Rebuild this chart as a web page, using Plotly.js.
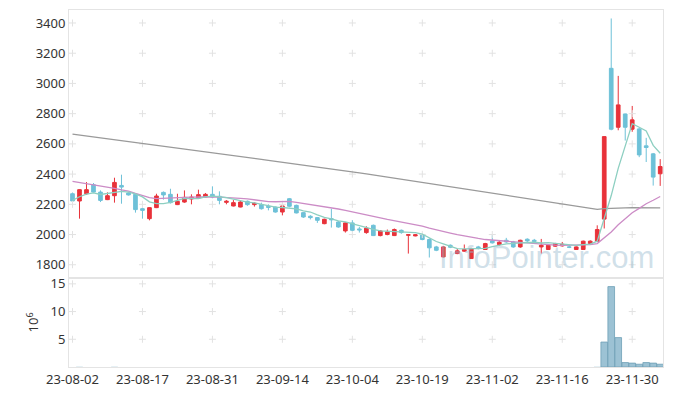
<!DOCTYPE html>
<html><head><meta charset="utf-8">
<script src="https://cdn.plot.ly/plotly-3.0.1.min.js"></script>
<style>html,body{margin:0;padding:0;background:#fff}#chart{width:673px;height:396px}</style>
</head><body><div id="chart"></div>
<script>
const dates = ['23-08-02','23-08-03','23-08-04','23-08-07','23-08-08','23-08-09','23-08-10','23-08-11','23-08-14','23-08-16','23-08-17','23-08-18','23-08-21','23-08-22','23-08-23','23-08-24','23-08-25','23-08-28','23-08-29','23-08-30','23-08-31',
'23-09-01','23-09-04','23-09-05','23-09-06','23-09-07','23-09-08','23-09-11','23-09-12','23-09-13','23-09-14','23-09-15','23-09-18','23-09-19','23-09-20','23-09-21','23-09-22','23-09-25','23-09-26','23-09-27',
'23-10-04','23-10-05','23-10-06','23-10-10','23-10-11','23-10-12','23-10-13','23-10-16','23-10-17','23-10-18','23-10-19','23-10-20','23-10-23','23-10-24','23-10-25','23-10-26','23-10-27','23-10-30','23-10-31',
'23-11-01','23-11-02','23-11-03','23-11-06','23-11-07','23-11-08','23-11-09','23-11-10','23-11-13','23-11-14','23-11-15','23-11-16','23-11-17','23-11-20','23-11-21','23-11-22','23-11-23','23-11-24','23-11-27','23-11-28','23-11-29','23-11-30',
'23-12-01','23-12-04','23-12-05','23-12-06'];

const openP = [2270,2222,2270,2330,2281,2231,2257,2325,2275,2266,
 2171,2105,2178,2279,2266,2198,2215,2235,2242,2248,
 2266,2253,2213,2189,2182,2220,2198,2198,2187,2182,
 2149,2237,2193,2145,2121,2112,2072,2105,2083,2024,
 2077,2037,2013,2061,1993,2000,1993,2028,1995,1991,
 1998,1967,1918,1852,1929,1874,1890,1841,1918,1901,
 1958,1934,1962,1951,1918,1969,1962,1918,1901,1923,
 1925,1918,1901,1901,1940,1956,2102,3100,2710,2798,
 2697,2699,2587,2534,2402];
const highP = [2278,2300,2347,2341,2292,2279,2376,2396,2280,2270,
 2178,2180,2270,2285,2303,2270,2292,2266,2297,2275,
 2319,2286,2228,2228,2228,2225,2213,2211,2200,2185,
 2195,2242,2198,2148,2128,2115,2105,2171,2090,2080,
 2095,2050,2055,2066,2030,2033,2040,2033,2002,2002,
 2006,1975,1925,1925,1935,1905,1934,1912,1925,1945,
 1995,1962,1978,1958,1966,1975,1971,1971,1935,1945,
 1951,1932,1922,1960,1962,2061,2650,3430,3050,2800,
 2851,2705,2640,2540,2499];
const lowP = [2204,2105,2262,2278,2215,2228,2211,2204,2258,2145,
 2105,2094,2175,2231,2205,2195,2210,2200,2238,2245,
 2240,2200,2200,2186,2180,2190,2185,2165,2160,2145,
 2127,2180,2140,2110,2100,2077,2068,2046,2045,2013,
 2020,2013,2005,1990,1988,1995,1990,2005,1874,1988,
 1962,1848,1890,1848,1910,1870,1885,1838,1902,1898,
 1940,1925,1945,1912,1912,1950,1938,1874,1898,1918,
 1920,1910,1898,1898,1935,1950,2040,2690,2690,2622,
 2680,2512,2480,2324,2322];
const closeP = [2222,2297,2297,2281,2226,2257,2345,2314,2262,2165,
 2160,2178,2255,2262,2211,2220,2246,2248,2264,2266,
 2248,2226,2220,2211,2215,2198,2207,2171,2180,2149,
 2189,2187,2143,2116,2112,2094,2101,2098,2050,2077,
 2028,2031,2042,1993,2024,2017,2033,2013,1999,1998,
 1967,1912,1896,1918,1916,1892,1901,1907,1907,1940,
 1945,1949,1951,1918,1962,1958,1955,1929,1929,1940,
 1936,1916,1918,1956,1956,2033,2648,2697,2858,2710,
 2759,2527,2576,2380,2450];

const ma5 = [2226,2250,2268,2276,2265,2272,2281,2285,2281,2269,
 2249,2216,2204,2204,2213,2225,2239,2237,2238,2249,
 2254,2250,2245,2234,2224,2214,2210,2200,2194,2181,
 2179,2175,2170,2157,2149,2130,2113,2104,2091,2084,
 2071,2057,2046,2034,2024,2021,2022,2016,2017,2012,
 2002,1978,1954,1938,1922,1907,1905,1907,1905,1909,
 1920,1930,1938,1941,1945,1948,1949,1944,1947,1942,
 1938,1930,1928,1933,1936,1956,2102,2258,2438,2589,
 2734,2710,2686,2590,2538];
const ma20 = [2352,2345,2338,2330,2321,2313,2305,2296,2288,2272,
 2256,2244,2238,2239,2241,2244,2246,2248,2249,2249,
 2250,2247,2243,2239,2239,2236,2229,2222,2218,2217,
 2218,2219,2213,2206,2201,2195,2187,2180,2169,2160,
 2149,2139,2130,2119,2110,2100,2092,2084,2075,2067,
 2056,2042,2030,2020,2010,2000,1990,1981,1974,1967,
 1963,1958,1954,1950,1947,1944,1940,1936,1933,1930,
 1928,1928,1929,1931,1933,1940,1978,2017,2065,2103,
 2144,2173,2204,2227,2252];
const ma120 = [2665,2659,2653,2646,2640,2634,2628,2622,2615,2609,
 2603,2597,2591,2584,2578,2572,2566,2560,2553,2547,
 2541,2535,2529,2522,2516,2510,2504,2498,2491,2485,
 2479,2473,2467,2460,2454,2448,2442,2436,2429,2422,
 2415,2408,2401,2394,2387,2379,2372,2365,2358,2351,
 2344,2337,2330,2323,2316,2308,2301,2294,2287,2280,
 2273,2266,2259,2252,2245,2237,2230,2223,2216,2209,
 2202,2195,2188,2181,2174,2167,2172,2175,2176,2177,
 2178,2178,2177,2176,2176];

const volume = [0.02,0.03,0.02,0.02,0.02,0.01,0.03,0.02,0.01,0.02,
 0.02,0.02,0.02,0.01,0.02,0.01,0.02,0.01,0.01,0.01,
 0.01,0.01,0.01,0.01,0.01,0.01,0.01,0.01,0.01,0.01,
 0.01,0.02,0.01,0.01,0.01,0.01,0.01,0.02,0.01,0.01,
 0.01,0.01,0.01,0.02,0.01,0.01,0.01,0.01,0.02,0.01,
 0.01,0.02,0.01,0.02,0.01,0.01,0.01,0.02,0.01,0.01,
 0.02,0.01,0.01,0.01,0.01,0.01,0.01,0.02,0.01,0.01,
 0.01,0.01,0.01,0.02,0.01,0.03,4.5,14.5,5.3,0.8,
 0.7,0.5,0.8,0.7,0.5];

const priceTicks = [1800,2000,2200,2400,2600,2800,3000,3200,3400];
const volTicks = [5,10,15];
const dateTicks = ['23-08-02','23-08-17','23-08-31','23-09-14','23-10-04','23-10-19','23-11-02','23-11-16','23-11-30'];
const watermark = 'InfoPointer.com';

const UP = '#e8323a', DOWN = '#6ec1d8';
const gridX = [], gridY = [], gridX2 = [], gridY2 = [];
dateTicks.forEach(d => {
  priceTicks.forEach(v => { gridX.push(d); gridY.push(v); });
  volTicks.forEach(v => { gridX2.push(d); gridY2.push(v); });
});
const crossMarker = {symbol:'cross-thin', size:5, color:'#e2e2e2', line:{color:'#e2e2e2', width:1}};
// outline only on bars tall enough to show one
const volLineW = volume.map(v => v > 0.3 ? 0.8 : 0);

const traces = [
  {type:'candlestick', x:dates, open:openP, high:highP, low:lowP, close:closeP, xaxis:'x', yaxis:'y',
   increasing:{line:{color:UP, width:1}, fillcolor:UP},
   decreasing:{line:{color:DOWN, width:1}, fillcolor:DOWN},
   whiskerwidth:0, showlegend:false},
  {type:'bar', x:dates, y:volume, xaxis:'x2', yaxis:'y2', marker:{color:'#9cc2d4', line:{color:'#6f9fb6', width:volLineW}}, showlegend:false},
  {type:'scatter', mode:'markers', x:gridX, y:gridY, xaxis:'x', yaxis:'y', marker:crossMarker, hoverinfo:'skip', showlegend:false},
  {type:'scatter', mode:'markers', x:gridX2, y:gridY2, xaxis:'x2', yaxis:'y2', marker:crossMarker, hoverinfo:'skip', showlegend:false},
  {type:'scatter', mode:'lines', x:dates, y:ma120, xaxis:'x', yaxis:'y', line:{color:'#9a9a9a', width:1.3}, showlegend:false},
  {type:'scatter', mode:'lines', x:dates, y:ma20, xaxis:'x', yaxis:'y', line:{color:'#cc8cc6', width:1.3}, showlegend:false},
  {type:'scatter', mode:'lines', x:dates, y:ma5, xaxis:'x', yaxis:'y', line:{color:'#8dcfc1', width:1.3}, showlegend:false}
];

const tickFont = {family:'Noto Sans, sans-serif', size:13, color:'#333'};
const layout = {
  width:673, height:396,
  margin:{l:69, r:10, t:10, b:29},
  paper_bgcolor:'#fff', plot_bgcolor:'#fff',
  showlegend:false, bargap:0.05, boxgap:0.25,
  xaxis:{type:'category', categoryorder:'array', categoryarray:dates, anchor:'y', domain:[0,1], range:[-0.5,84.4], rangeslider:{visible:false},
    showticklabels:false, showgrid:false, zeroline:false, showline:true, mirror:true, linecolor:'#e4e4e4', ticks:''},
  xaxis2:{type:'category', categoryorder:'array', categoryarray:dates, anchor:'y2', domain:[0,1], matches:'x', range:[-0.5,84.4],
    tickmode:'array', tickvals:dateTicks, ticktext:dateTicks, tickfont:tickFont, ticks:'',
    showgrid:false, zeroline:false, showline:true, mirror:true, linecolor:'#e4e4e4', tickangle:0},
  yaxis:{domain:[0.25,1], range:[1714,3486], tickmode:'array', tickvals:priceTicks, tickfont:tickFont,
    showgrid:false, zeroline:false, showline:true, mirror:true, linecolor:'#e4e4e4', ticks:''},
  yaxis2:{domain:[0,0.25], range:[0,16.1], tickmode:'array', tickvals:volTicks, tickfont:tickFont,
    showgrid:false, zeroline:false, showline:true, mirror:true, linecolor:'#e4e4e4', ticks:'',
    title:{text:'10<sup>6</sup>', font:{family:'Noto Sans, sans-serif', size:13, color:'#333'}, standoff:8}},
  annotations:[{text:watermark, xref:'paper', yref:'paper', x:0.804, y:0.308, xanchor:'center', yanchor:'middle',
    showarrow:false, font:{family:'Liberation Sans, Arial, sans-serif', size:31, color:'rgba(150,186,206,0.45)'}}]
};
Plotly.newPlot('chart', traces, layout, {staticPlot:true, displayModeBar:false});
</script></body></html>
